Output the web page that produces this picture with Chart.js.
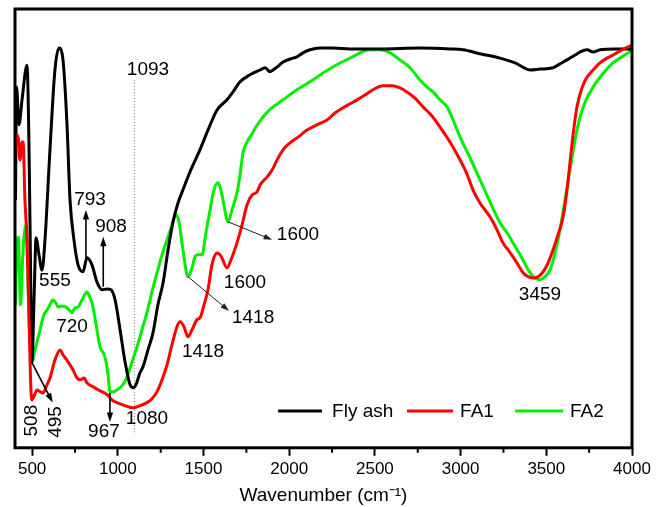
<!DOCTYPE html>
<html>
<head>
<meta charset="utf-8">
<script src="https://cdn.jsdelivr.net/npm/chart.js@4.4.1/dist/chart.umd.min.js"></script>
<style>
  body { margin: 0; background: #fff; }
  canvas { display: block; }
</style>
</head>
<body>
<canvas id="ftir-chart" width="665" height="507"></canvas>
<script>
// wavenumbers (cm-1) and transmittance
const flyAshWn = [403,409,423,441,470,482,493,499,511,523,540,558,575,604,633,657,680,703,721,744,
  768,797,820,849,878,908,937,960,984,1013,1042,1071,1089,1106,1129,1147,1176,1205,1234,1264,
  1293,1322,1351,1380,1421,1479,1526,1579,1637,1672,1713,1771,1830,1859,1888,1923,1964,2005,2045,2080,
  2121,2180,2256,2355,2530,2763,2938,3014,3113,3230,3318,3405,3463,3539,3580,3621,3668,3697,3738,3773,
  3813,3901,4000];
const flyAshT = [56.5,82.2,73.6,79.3,87.2,67.9,33.7,19.6,33.7,47.8,44.0,40.5,47.4,67.9,86.1,91.1,88.4,74.0,56.5,47.4,
  41.7,40.1,43.3,41.7,37.8,36.0,36.2,36.0,33.7,26.9,19.6,14.4,13.7,14.4,17.1,18.5,22.3,26.2,32.6,37.6,
  45.1,51.5,55.8,58.8,62.9,67.9,72.4,77.0,79.3,81.1,83.4,85.0,86.1,86.6,85.7,86.6,87.9,88.6,89.1,90.0,
  90.7,91.1,91.1,90.9,90.9,91.1,90.9,90.7,89.8,88.8,87.7,86.1,86.3,86.6,87.5,88.4,89.5,90.2,90.7,90.2,
  90.7,90.9,90.9];

const fa1Wn = [403,409,418,429,441,447,458,470,482,493,499,511,528,546,563,587,604,633,663,680,
  703,738,762,779,803,820,855,896,937,966,995,1042,1089,1129,1170,1199,1229,1258,1287,1316,
  1345,1363,1386,1409,1433,1462,1479,1503,1526,1549,1579,1602,1637,1660,1695,1725,1754,1783,1812,1830,
  1870,1900,1929,1964,2005,2051,2104,2162,2220,2267,2314,2355,2396,2442,2489,2547,2600,2646,2687,2734,
  2781,2833,2880,2938,2997,3037,3072,3113,3172,3212,3247,3277,3306,3335,3364,3393,3423,3452,3481,3510,
  3539,3568,3598,3621,3638,3656,3679,3708,3738,3773,3813,3854,3889,3942,4000];
const fa1T = [67.9,71.3,70.8,65.6,69.7,69.7,56.5,47.4,29.2,13.2,10.9,11.8,13.2,12.8,12.5,14.4,15.9,20.0,22.3,21.2,
  20.0,17.8,15.9,15.5,15.9,14.8,13.9,13.0,12.1,10.9,10.3,9.6,9.1,9.6,10.3,11.2,12.8,15.5,18.9,23.5,
  27.6,28.7,27.6,25.3,26.9,29.2,29.6,32.6,36.0,41.7,44.4,43.7,41.0,42.8,46.7,50.8,55.4,57.6,58.3,59.9,
  61.7,63.3,65.6,67.9,69.5,70.8,72.4,73.6,74.7,76.3,77.5,78.4,79.3,80.4,81.6,82.5,82.5,82.0,81.1,79.7,
  77.7,75.6,73.1,69.7,65.6,62.4,58.8,55.8,52.6,49.7,46.7,45.1,43.5,41.7,39.9,39.0,38.7,39.0,40.1,42.1,
  45.1,48.5,52.6,58.8,64.9,71.3,77.7,82.0,84.5,86.1,87.7,88.8,89.5,90.7,91.8];

const fa2Wn = [403,412,420,432,447,464,482,499,517,546,569,587,604,622,639,651,674,703,721,733,750,
  768,791,820,838,855,878,896,925,943,954,978,995,1024,1054,1083,1112,1141,1170,1199,1229,
  1258,1287,1316,1339,1357,1380,1409,1433,1450,1468,1491,1514,1538,1561,1585,1608,1643,1666,1695,1713,
  1730,1754,1771,1806,1847,1900,1964,2034,2121,2209,2296,2355,2413,2471,2530,2588,2646,2705,2763,2810,
  2839,2880,2921,2956,2997,3055,3113,3172,3230,3271,3306,3347,3376,3405,3434,3463,3492,3522,3551,3580,
  3609,3638,3668,3697,3732,3773,3825,3889,3942,4000];
const fa2T = [32.6,47.4,48.0,32.6,45.1,50.8,29.2,19.4,22.3,26.9,30.3,31.4,32.6,33.7,33.0,32.1,32.3,31.9,31.2,30.8,31.9,
  32.1,33.7,35.5,34.2,32.1,26.9,23.0,20.7,16.6,12.8,12.8,13.2,14.1,16.2,19.6,23.0,26.9,30.8,35.5,39.9,
  44.0,47.4,50.8,53.1,51.5,45.1,39.0,41.0,43.5,44.0,44.0,49.0,54.2,58.8,60.4,57.6,51.5,54.2,58.1,62.2,
  67.2,69.7,70.8,73.1,75.4,77.5,79.3,81.3,83.4,85.7,87.7,88.8,90.0,90.7,90.7,90.0,88.4,86.6,83.8,82.0,
  81.1,79.3,77.7,74.7,70.8,66.1,61.1,56.0,51.3,49.0,46.7,44.0,41.9,39.9,38.7,38.3,39.0,40.5,44.4,49.7,
  56.5,63.3,70.2,75.4,79.3,82.2,85.0,87.7,89.1,90.7];

const majorTicks = [500,1000,1500,2000,2500,3000,3500,4000];
const minorTicks = [750,1250,1750,2250,2750,3250,3750];

// band labels: [text, wavenumber, transmittance, rotated]
const bandLabels = [
  ['1093', 1176, 86.1, false],
  ['793', 838, 56.5, false],
  ['908', 960, 50.3, false],
  ['555', 633, 38.0, false],
  ['720', 733, 27.6, false],
  ['508', 499, 6.2, true],
  ['495', 639, 5.9, true],
  ['967', 919, 3.6, false],
  ['1080', 1170, 6.6, false],
  ['1418', 1497, 21.9, false],
  ['1418', 1789, 29.6, false],
  ['1600', 1742, 37.6, false],
  ['1600', 2051, 48.5, false],
  ['3459', 3463, 34.9, false]
];
// arrows: [fromWn, fromT, toWn, toT, thin]
const bandArrows = [
  [814, 42.8, 814, 54.2, false],
  [915, 36.7, 915, 48.1, false],
  [954, 12.5, 954, 5.9, false],
  [499, 19.4, 620, 10.3, false],
  [1409, 39.0, 1649, 31.2, true],
  [1643, 51.5, 1900, 47.4, true]
];

const FONT = '"Liberation Sans", Arial, Helvetica, sans-serif';

function toPoints(wn, t) {
  return wn.map((w, i) => ({ x: w, y: t[i] }));
}

function drawArrow(ctx, x1, y1, x2, y2, thin) {
  const ang = Math.atan2(y2 - y1, x2 - x1);
  const head = thin ? 9 : 10;
  ctx.lineWidth = thin ? 1 : 1.6;
  ctx.strokeStyle = thin ? '#222' : '#000';
  ctx.fillStyle = ctx.strokeStyle;
  ctx.beginPath();
  ctx.moveTo(x1, y1);
  ctx.lineTo(x2 - Math.cos(ang) * head * 0.7, y2 - Math.sin(ang) * head * 0.7);
  ctx.stroke();
  ctx.beginPath();
  ctx.moveTo(x2, y2);
  ctx.lineTo(x2 - head * Math.cos(ang - 0.32), y2 - head * Math.sin(ang - 0.32));
  ctx.lineTo(x2 - head * Math.cos(ang + 0.32), y2 - head * Math.sin(ang + 0.32));
  ctx.closePath();
  ctx.fill();
}

const guidePlugin = {
  id: 'guide',
  beforeDatasetsDraw(chart) {
    const { ctx, scales: { x, y } } = chart;
    const gx = Math.round(x.getPixelForValue(1093)) + 0.5;
    ctx.save();
    ctx.strokeStyle = '#888';
    ctx.lineWidth = 1;
    ctx.setLineDash([1, 2]);
    ctx.beginPath();
    ctx.moveTo(gx, y.getPixelForValue(83.8));
    ctx.lineTo(gx, y.getPixelForValue(3.0));
    ctx.stroke();
    ctx.restore();
  }
};

const notesPlugin = {
  id: 'notes',
  afterDatasetsDraw(chart) {
    const { ctx, chartArea: a, scales: { x, y } } = chart;
    ctx.save();

    // labels
    ctx.fillStyle = '#000';
    ctx.font = '19px ' + FONT;
    ctx.textAlign = 'center';
    ctx.textBaseline = 'middle';
    bandLabels.forEach(([text, wn, t, rot]) => {
      const px = x.getPixelForValue(wn), py = y.getPixelForValue(t);
      if (rot) {
        ctx.save();
        ctx.translate(px, py);
        ctx.rotate(-Math.PI / 2);
        ctx.fillText(text, 0, 0);
        ctx.restore();
      } else {
        ctx.fillText(text, px, py);
      }
    });

    bandArrows.forEach(([w1, t1, w2, t2, thin]) => {
      drawArrow(ctx, x.getPixelForValue(w1), y.getPixelForValue(t1),
        x.getPixelForValue(w2), y.getPixelForValue(t2), thin);
    });

    // legend
    const legendY = y.getPixelForValue(8.4);
    const spots = [[1935, 2191, 2250], [2687, 2956, 2997], [3318, 3598, 3638]];
    ctx.textAlign = 'left';
    chart.data.datasets.forEach((ds, i) => {
      const [l0, l1, tx] = spots[i];
      ctx.strokeStyle = ds.borderColor;
      ctx.lineWidth = 3;
      ctx.beginPath();
      ctx.moveTo(x.getPixelForValue(l0), legendY);
      ctx.lineTo(x.getPixelForValue(l1), legendY);
      ctx.stroke();
      ctx.fillStyle = '#000';
      ctx.fillText(ds.label, x.getPixelForValue(tx), legendY + 1);
    });

    // minor ticks
    ctx.strokeStyle = '#000';
    ctx.lineWidth = 2;
    minorTicks.forEach(v => {
      const px = x.getPixelForValue(v);
      ctx.beginPath();
      ctx.moveTo(px, a.bottom);
      ctx.lineTo(px, a.bottom + 5);
      ctx.stroke();
    });

    // frame
    ctx.lineWidth = 3;
    ctx.strokeRect(a.left, a.top, a.right - a.left, a.bottom - a.top);
    ctx.restore();
  }
};

const lineStyle = { borderWidth: 3, pointRadius: 0, fill: false, cubicInterpolationMode: 'monotone' };

new Chart(document.getElementById('ftir-chart').getContext('2d'), {
  type: 'line',
  data: {
    datasets: [
      { ...lineStyle, label: 'Fly ash', data: toPoints(flyAshWn, flyAshT), borderColor: '#000000', order: 1 },
      { ...lineStyle, label: 'FA1', data: toPoints(fa1Wn, fa1T), borderColor: '#ff0000', order: 0 },
      { ...lineStyle, label: 'FA2', data: toPoints(fa2Wn, fa2T), borderColor: '#00ee00', order: 2 }
    ]
  },
  options: {
    responsive: false,
    animation: false,
    layout: { padding: { left: 15, right: 33, top: 9, bottom: 0 } },
    plugins: { legend: { display: false }, tooltip: { enabled: false } },
    scales: {
      x: {
        type: 'linear',
        min: 400,
        max: 4000,
        afterBuildTicks: axis => { axis.ticks = majorTicks.map(v => ({ value: v })); },
        ticks: { color: '#000', font: { family: FONT, size: 17 }, padding: 3, maxRotation: 0, autoSkip: false,
          callback: v => String(v) },
        grid: { drawOnChartArea: false, tickLength: 8, tickWidth: 2, tickColor: '#000' },
        border: { display: false },
        title: { display: true, text: 'Wavenumber (cm⁻¹)', color: '#000', font: { family: FONT, size: 19 }, padding: { top: 2, bottom: 0 } }
      },
      y: { display: false, min: 0, max: 100 }
    }
  },
  plugins: [guidePlugin, notesPlugin]
});
</script>
</body>
</html>
